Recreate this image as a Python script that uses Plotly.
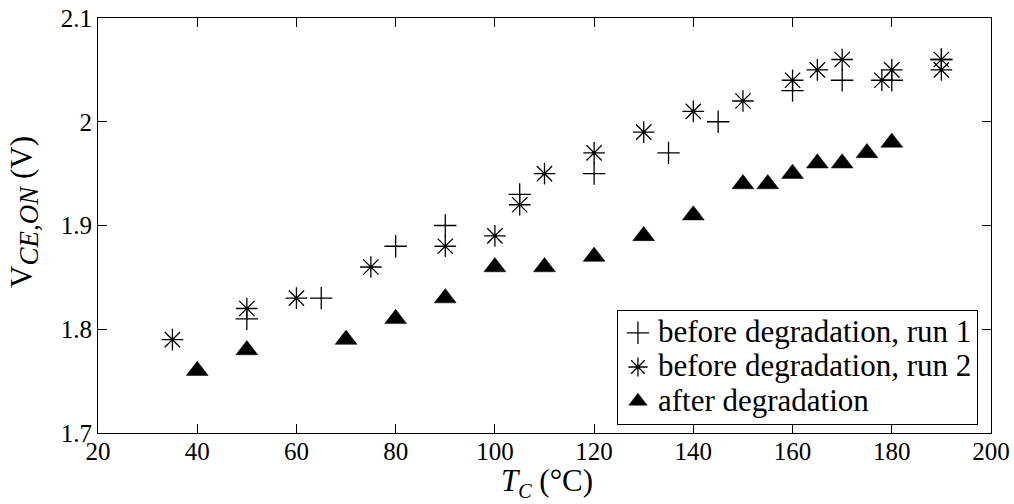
import plotly.graph_objects as go

# Case temperature (°C) and on-state collector-emitter voltage (V)
t_run1 = [50, 65, 80, 90, 105, 120, 135, 145, 160, 170, 180, 190]
v_run1 = [1.81, 1.83, 1.88, 1.90, 1.93, 1.95, 1.97, 2.00, 2.03, 2.04, 2.04, 2.06]

t_run2 = [35, 50, 60, 75, 90, 100, 105, 110, 120, 130, 140, 150, 160, 165, 170, 178, 180, 190, 190]
v_run2 = [1.79, 1.82, 1.83, 1.86, 1.88, 1.89, 1.92, 1.95, 1.97, 1.99, 2.01, 2.02, 2.04, 2.05, 2.06, 2.04, 2.05, 2.06, 2.05]

t_after = [40, 50, 70, 80, 90, 100, 110, 120, 130, 140, 150, 155, 160, 165, 170, 175, 180]
v_after = [1.76, 1.78, 1.79, 1.81, 1.83, 1.86, 1.86, 1.87, 1.89, 1.91, 1.94, 1.94, 1.95, 1.96, 1.96, 1.97, 1.98]

x_ticks = [20, 40, 60, 80, 100, 120, 140, 160, 180, 200]
y_ticks = [1.7, 1.8, 1.9, 2.0, 2.1]
y_tick_text = ["1.7", "1.8", "1.9", "2", "2.1"]

series_names = ["before degradation, run 1", "before degradation, run 2", "after degradation"]

FONT = "Liberation Serif, Times New Roman, serif"


def legend_label(text):
    # large legend text while keeping the rows tightly packed
    return "<span style='font-size:31px'>" + text + "</span>"


fig = go.Figure()
fig.add_trace(go.Scatter(
    x=t_run1, y=v_run1, mode="markers", name=legend_label(series_names[0]),
    marker=dict(symbol="cross-thin-open", size=16, color="black",
                line=dict(color="black", width=1.3)),
))
fig.add_trace(go.Scatter(
    x=t_run2, y=v_run2, mode="markers", name=legend_label(series_names[1]),
    marker=dict(symbol="asterisk-open", size=18, color="black",
                line=dict(color="black", width=1.3)),
))
fig.add_trace(go.Scatter(
    x=t_after, y=v_after, mode="markers", name=legend_label(series_names[2]),
    marker=dict(symbol="triangle-up", size=19, color="black",
                line=dict(color="black", width=0.5)),
))

axis_common = dict(
    showgrid=False, zeroline=False, showline=True, linecolor="black",
    linewidth=1.2, mirror="ticks", ticks="inside", ticklen=9,
    tickcolor="black", tickwidth=1, tickfont=dict(family=FONT, size=25, color="black"),
    automargin=False,
)

fig.update_layout(
    width=1014, height=504,
    margin=dict(l=98, r=23, t=18, b=71, autoexpand=False),
    paper_bgcolor="white", plot_bgcolor="white",
    font=dict(family=FONT, color="black"),
    xaxis=dict(range=[20, 200], tickvals=x_ticks, ticktext=[str(v) for v in x_ticks],
               ticklabelstandoff=-4, **axis_common),
    yaxis=dict(range=[1.7, 2.1], tickvals=y_ticks, ticktext=y_tick_text, **axis_common),
    legend=dict(
        x=0.9854, y=0.02, xanchor="right", yanchor="bottom",
        bgcolor="white", bordercolor="black", borderwidth=1,
        font=dict(family=FONT, size=24, color="black"),
        tracegroupgap=0, itemwidth=30,
    ),
    showlegend=True,
    annotations=[
        dict(text="<i>T</i><sub><span style='font-size:20px'><i>C</i></span></sub> (°C)",
             xref="paper", yref="paper", x=0.503, y=0, xanchor="center", yanchor="top",
             yshift=-28, showarrow=False, font=dict(family=FONT, size=31, color="black")),
        dict(text="V<sub><span style='font-size:27px'><i>CE,ON</i></span></sub> (V)",
             xref="paper", yref="paper", x=-0.083, y=0.5325, xanchor="center",
             yanchor="middle", textangle=-90,
             showarrow=False, font=dict(family=FONT, size=31, color="black")),
    ],
)

fig.write_html("out.html")
